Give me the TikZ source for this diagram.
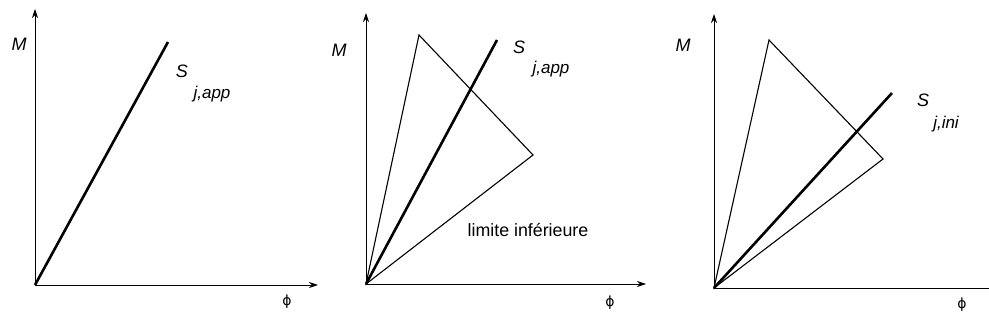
\documentclass[tikz,border=0pt]{standalone}
\usepackage{fontspec}
\setmainfont{Liberation Sans}
\newfontfamily\grk{DejaVu Sans}
\usetikzlibrary{arrows.meta}

\tikzset{
 axis/.style={black,line width=.9pt,-{Stealth[length=9pt,width=6pt]}},
 bound/.style={black,line width=1.1pt,line join=miter},
 stiff/.style={black,line width=2.6pt},
 lbl/.style={font=\fontsize{18}{18}\selectfont\itshape,inner sep=0pt},
 sub/.style={font=\fontsize{17}{17}\selectfont\itshape,inner sep=0pt},
 phi/.style={font=\fontsize{14}{14}\selectfont\grk,inner sep=0pt},
}

\begin{document}
\begin{tikzpicture}[x=1pt,y=1pt]
 \useasboundingbox (0,0) rectangle (989,332);
 % panel 1
 \coordinate (o1) at (35,47);
 \coordinate (y1) at (35,323);
 \coordinate (x1) at (318,47);
 \coordinate (s1) at (168,290);
 \draw[axis] (o1) -- (y1);
 \draw[axis] (o1) -- (x1);
 \draw[stiff] (o1) -- (s1);
 \node[lbl] (m1) at (19,288) {M};
 \node[lbl] (S1) at (182,261) {S};
 \node[sub] (j1) at (212,238) {j,app};
 \node[phi] (p1) at (287,30) {ϕ};
 % panel 2
 \coordinate (o2) at (366,48);
 \coordinate (y2) at (366,319);
 \coordinate (x2) at (646,48);
 \coordinate (t2) at (419,297);
 \coordinate (r2) at (533,177);
 \coordinate (s2) at (497,292);
 \draw[axis] (o2) -- (y2);
 \draw[axis] (o2) -- (x2);
 \draw[bound] (o2) -- (t2) -- (r2) -- cycle;
 \draw[stiff] (o2) -- (s2);
 \node[lbl] (m2) at (339,282) {M};
 \node[lbl] (S2) at (519,285) {S};
 \node[sub] (j2) at (551,263) {j,app};
 \node[font=\fontsize{17.8}{17.8}\selectfont,inner sep=0pt] (li) at (528,102) {limite inférieure};
 \node[phi] (p2) at (610,29) {ϕ};
 % panel 3
 \coordinate (o3) at (714,44);
 \coordinate (y3) at (714,318);
 \coordinate (x3) at (989,44);
 \coordinate (t3) at (769,292);
 \coordinate (r3) at (883,173);
 \coordinate (s3) at (892,239);
 \draw[axis] (o3) -- (y3);
 \draw[black,line width=.9pt] (o3) -- (x3);
 \draw[bound] (o3) -- (t3) -- (r3) -- cycle;
 \draw[stiff] (o3) -- (s3);
 \node[lbl] (m3) at (683,287) {M};
 \node[lbl] (S3) at (923,232) {S};
 \node[sub] (j3) at (946,208) {j,ini};
 \node[phi] (p3) at (962,27) {ϕ};
\end{tikzpicture}
\end{document}
